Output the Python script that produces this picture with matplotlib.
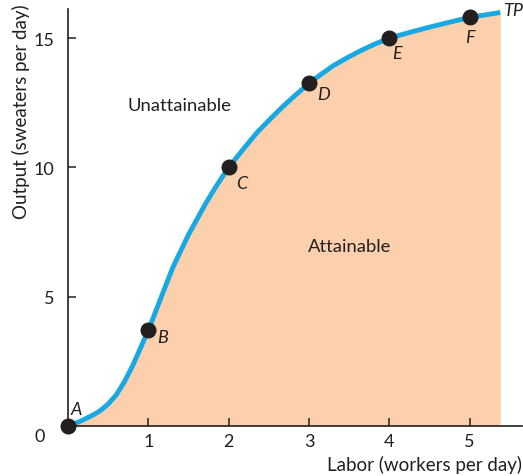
import matplotlib.pyplot as plt

plt.rcParams['font.family'] = ['Lato', 'DejaVu Sans']

# total product curve
labor_curve = [0, 0.07, 0.15, 0.23, 0.32, 0.40, 0.5, 0.6, 0.7, 0.8, 0.9, 1.0, 1.15, 1.3, 1.5, 1.72,
               1.85, 2.0, 2.18, 2.35, 2.52, 2.68, 2.84, 3.0, 3.15, 3.3, 3.47, 3.64, 3.82, 4.0, 4.23,
               4.47, 4.73, 5.0, 5.2, 5.38]
output_curve = [0, 0.08, 0.18, 0.30, 0.44, 0.59, 0.85, 1.2, 1.7, 2.3, 3.0, 3.7, 4.9, 6.1, 7.4, 8.64,
                9.3, 10.0, 10.7, 11.34, 11.88, 12.37, 12.82, 13.25, 13.6, 13.93, 14.23, 14.51, 14.77, 15.0, 15.2,
                15.4, 15.6, 15.8, 15.9, 15.99]

# labelled points A-F
point_names = ['A', 'B', 'C', 'D', 'E', 'F']
labor = [0, 1, 2, 3, 4, 5]
output = [0, 3.7, 10, 13.25, 15, 15.8]

text_color = '#231f20'
fig = plt.figure(figsize=(5.23, 4.77), dpi=100)
ax = fig.add_axes([0.130, 0.1048, 0.868, 0.874])

ax.fill_between(labor_curve, output_curve, 0, color='#fcd0ac', linewidth=0, zorder=1)
ax.plot(labor_curve, output_curve, color='#18a8e4', linewidth=3.5, solid_capstyle='butt',
        solid_joinstyle='round', zorder=2)
ax.plot(labor, output, 'o', color='#231f20', markersize=10.5, zorder=3, clip_on=False)

offsets = {'A': (2, 12), 'B': (6.5, -5), 'C': (5, -11), 'D': (6, -8), 'E': (2, -11), 'F': (-3.5, -14)}
for name, x, y in zip(point_names, labor, output):
    ax.annotate(name, (x, y), textcoords='offset points', xytext=offsets[name],
                fontsize=13, style='italic', color=text_color, ha='left', va='center')

ax.annotate('TP', (labor_curve[-1], output_curve[-1]), textcoords='offset points', xytext=(2, 2),
            fontsize=13, style='italic', color=text_color, ha='left', va='center')
ax.text(1.39, 12.4, 'Unattainable', fontsize=13.3, color=text_color, ha='center', va='center')
ax.text(3.5, 6.95, 'Attainable', fontsize=13.3, color=text_color, ha='center', va='center')

ax.set_xlim(0, 5.65)
ax.set_ylim(0, 16.12)
ax.set_xticks([1, 2, 3, 4, 5])
ax.set_yticks([5, 10, 15])
ax.tick_params(direction='in', length=6, width=1.1, colors=text_color, labelsize=13)
ax.tick_params(axis='x', pad=5)
ax.tick_params(axis='y', pad=10)
for s in ['top', 'right']:
    ax.spines[s].set_visible(False)
for s in ['left', 'bottom']:
    ax.spines[s].set_color(text_color)
    ax.spines[s].set_linewidth(1.2)

ax.text(-0.35, -0.39, '0', fontsize=13, color=text_color, ha='center', va='center')
fig.text(0.998, 0.025, 'Labor (workers per day)', fontsize=13.5, color=text_color, ha='right', va='center')
fig.text(0.022, 0.99, 'Output (sweaters per day)', fontsize=13.5, color=text_color, rotation=90,
         ha='left', va='top')

fig.savefig('out.png', dpi=100)
